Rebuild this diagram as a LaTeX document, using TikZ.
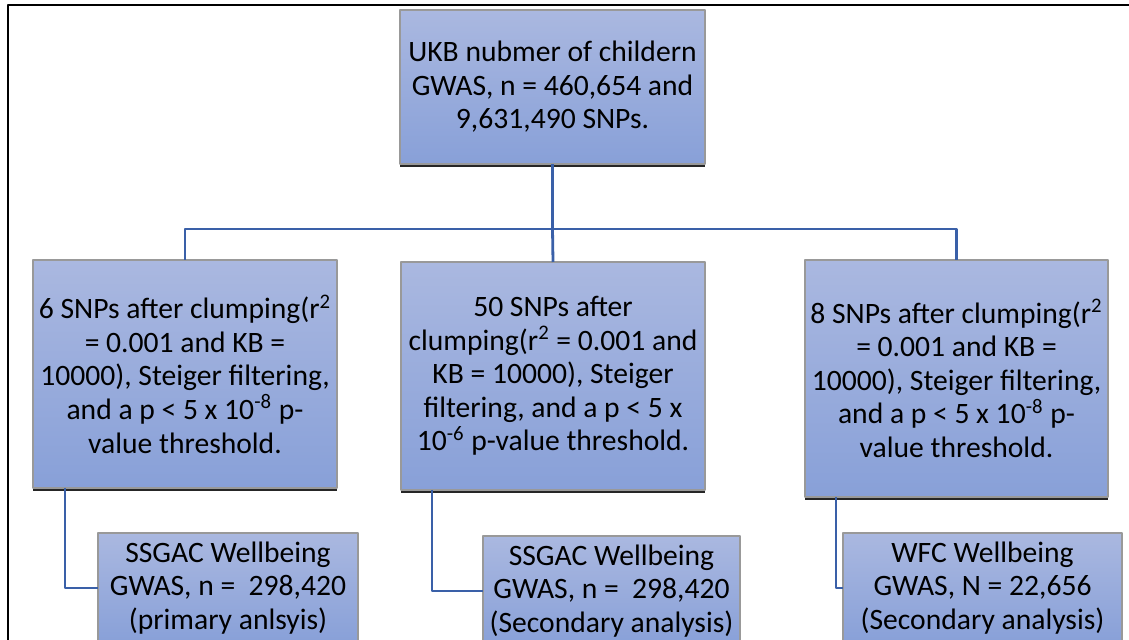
\documentclass[tikz,border=0pt]{standalone}
\usepackage{fontspec}
\setmainfont{Carlito}
\usetikzlibrary{shadows}

\definecolor{boxtop}{RGB}{170,184,224}
\definecolor{boxbottom}{RGB}{136,160,216}
\definecolor{linkblue}{RGB}{58,96,168}

\begin{document}
\begin{tikzpicture}[line cap=round,line join=round,x=0.5pt,y=-0.5pt,
    stage/.style={rectangle, draw=gray!80, line width=0.6pt, top color=boxtop, bottom color=boxbottom,
        align=center, inner sep=2pt, outer sep=0pt, font=\fontsize{14.8}{16.8}\selectfont,
        drop shadow={shadow xshift=0pt, shadow yshift=-1.6pt, fill=black!85, opacity=1}},
    link/.style={draw=linkblue, line width=1.4pt, line cap=butt}]
                    \useasboundingbox (0,0) rectangle (1129,640);
                    \draw [line width=1pt, line cap=butt] (8,640) -- (8,5) -- (1129,5);

                    % children GWAS
                    \node [stage, minimum width=152.5pt, minimum height=77pt] (ukb) at (552.5,87)
                        {UKB nubmer of childern\\GWAS, n = 460,654 and\\9,631,490 SNPs.};

                    % instruments
                    \node [stage, minimum width=152pt, minimum height=114pt] (snpsix) at (185,374)
                        {6 SNPs after clumping(r\textsuperscript{2}\\= 0.001 and KB =\\10000), Steiger filtering,\\and a p < 5 x 10\textsuperscript{-8} p-\\value threshold.};
                    \node [stage, minimum width=152pt, minimum height=114pt] (snpfifty) at (553,376)
                        {50 SNPs after\\clumping(r\textsuperscript{2} = 0.001 and\\KB = 10000), Steiger\\filtering, and a p < 5 x\\10\textsuperscript{-6} p-value threshold.};
                    \node [stage, minimum width=151.5pt, minimum height=118.5pt] (snpeight) at (956.5,378.5)
                        {8 SNPs after clumping(r\textsuperscript{2}\\= 0.001 and KB =\\10000), Steiger filtering,\\and a p < 5 x 10\textsuperscript{-8} p-\\value threshold.};

                    % outcome GWAS
                    \node [stage, minimum width=130pt, minimum height=55pt] (ssgacone) at (228,588)
                        {SSGAC Wellbeing\\GWAS, n = \ 298,420\\(primary anlsyis)};
                    \node [stage, minimum width=128.5pt, minimum height=55pt] (ssgactwo) at (611.5,591)
                        {SSGAC Wellbeing\\GWAS, n = \ 298,420\\(Secondary analysis)};
                    \node [stage, minimum width=139.5pt, minimum height=55pt] (wfc) at (982.5,588)
                        {WFC Wellbeing\\GWAS, N = 22,656\\(Secondary analysis)};

                    \coordinate (split) at (552.5,229);
                    \draw [link] (ukb.south) -- (split);
                    \draw [link] (split) -| (snpsix.north);
                    \draw [link] (split) -- (snpfifty.north);
                    \draw [link] (split) -| (snpeight.north);

                    \draw [link] ([xshift=16pt]snpsix.south west) |- (ssgacone.west);
                    \draw [link] ([xshift=15.5pt]snpfifty.south west) |- (ssgactwo.west);
                    \draw [link] ([xshift=15.5pt]snpeight.south west) |- (wfc.west);
                \end{tikzpicture}
\end{document}
